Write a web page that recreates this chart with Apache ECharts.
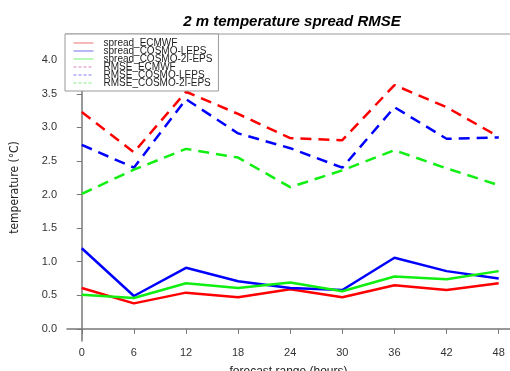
<!DOCTYPE html>
<html>
<head>
<meta charset="utf-8">
<script src="https://cdn.jsdelivr.net/npm/echarts@6/dist/echarts.min.js"></script>
<style>
    html, body {margin: 0; padding: 0; background: #fff;}
    #chart {width: 510px; height: 371px;}
</style>
</head>
<body>
<div id="chart"></div>
<script>
// forecast hours
const hours = [0, 6, 12, 18, 24, 30, 36, 42, 48];
const yTicks = [0, 0.5, 1, 1.5, 2, 2.5, 3, 3.5, 4];

// spread (solid)
const spreadEcmwf = [0.61, 0.38, 0.54, 0.47, 0.59, 0.47, 0.65, 0.58, 0.68];
const spreadLeps = [1.20, 0.49, 0.91, 0.71, 0.61, 0.58, 1.06, 0.86, 0.75];
const spread2i = [0.51, 0.46, 0.68, 0.61, 0.69, 0.56, 0.78, 0.74, 0.86];

// RMSE (dashed)
const rmseEcmwf = [3.23, 2.63, 3.53, 3.20, 2.84, 2.81, 3.63, 3.30, 2.86];
const rmseLeps = [2.74, 2.40, 3.42, 2.91, 2.69, 2.40, 3.30, 2.83, 2.85];
const rmse2i = [2.01, 2.37, 2.68, 2.55, 2.11, 2.36, 2.66, 2.39, 2.14];

const RED = '#ff0000';
const BLUE = '#0000ff';
const GREEN = '#11ee11';

const toPairs = vals => hours.map((h, i) => [h, vals[i]]);

const makeSeries = (name, vals, color, dashed) => ({
    name,
    type: 'line',
    data: toPairs(vals),
    symbol: 'none',
    z: dashed ? 3 : 4,
    lineStyle: {color, width: 2.5, type: dashed ? [11, 7] : 'solid'},
    itemStyle: {color},
});

// legend entry: thin sample line, no marker
const legendItem = (name, color, dashed) => ({
    name,
    itemStyle: {color: 'rgba(0,0,0,0)', borderWidth: 0},
    lineStyle: {width: 1, color, type: dashed ? [3, 2] : 'solid'},
});

const chart = echarts.init(document.getElementById('chart'));
const option = {
    animation: false,
    title: {
        text: '2 m temperature spread RMSE',
        left: 287,
        top: 9,
        textAlign: 'center',
        textStyle: {fontSize: 15, fontWeight: 'bold', fontStyle: 'italic', color: '#000', fontFamily: 'Liberation Sans'},
    },
    grid: {left: 67, top: 34, right: 0, bottom: 30, outerBoundsMode: 'none', containLabel: false},
    legend: {
        orient: 'vertical',
        left: 65,
        top: 34,
        itemGap: -2,
        itemWidth: 20,
        itemHeight: 8,
        padding: [4, 6, 3, 8],
        backgroundColor: '#fff',
        borderColor: '#999',
        borderWidth: 1,
        z: 10,
        textStyle: {fontSize: 10, color: '#222', fontFamily: 'Liberation Sans', padding: [0, 0, 0, 5]},
        data: [
            legendItem('spread_ECMWF', '#f07070', false),
            legendItem('spread_COSMO-LEPS', '#7070f0', false),
            legendItem('spread_COSMO-2I-EPS', '#70f070', false),
            legendItem('RMSE_ECMWF', '#e080c0', true),
            legendItem('RMSE_COSMO-LEPS', '#8080f0', true),
            legendItem('RMSE_COSMO-2I-EPS', '#80f080', true),
        ],
    },
    xAxis: {
        type: 'value',
        min: -1.7,
        max: 49.3,
        name: 'forecast range (hours)',
        nameLocation: 'middle',
        nameGap: 25,
        nameTextStyle: {fontSize: 12, color: '#222', fontFamily: 'Liberation Sans'},
        axisLine: {show: true, lineStyle: {color: '#777', width: 1.5}},
        axisTick: {show: true, length: 5, customValues: hours, lineStyle: {color: '#777'}},
        axisLabel: {customValues: hours, fontSize: 11, color: '#333', margin: 6, fontFamily: 'Liberation Sans'},
        splitLine: {show: false},
    },
    yAxis: {
        type: 'value',
        min: -0.18,
        max: 4.39,
        name: 'temperature (°C)',
        nameLocation: 'middle',
        nameGap: 46,
        nameRotate: 90,
        nameTextStyle: {fontSize: 12, color: '#222', fontFamily: 'DejaVu Sans Condensed, Liberation Sans'},
        axisLine: {show: true, lineStyle: {color: '#777', width: 1.5}},
        axisTick: {show: true, length: 5, customValues: yTicks, lineStyle: {color: '#777'}},
        axisLabel: {
            customValues: yTicks,
            fontSize: 11,
            color: '#333',
            margin: 10,
            fontFamily: 'Liberation Sans',
            formatter: v => v.toFixed(1),
        },
        splitLine: {show: false},
    },
    graphic: [{
        type: 'line',
        shape: {x1: 65, y1: 34, x2: 510, y2: 34},
        style: {stroke: '#bbb', lineWidth: 1.5},
        z: 1,
    }],
    series: [
        makeSeries('spread_ECMWF', spreadEcmwf, RED, false),
        makeSeries('spread_COSMO-LEPS', spreadLeps, BLUE, false),
        makeSeries('spread_COSMO-2I-EPS', spread2i, GREEN, false),
        makeSeries('RMSE_ECMWF', rmseEcmwf, RED, true),
        makeSeries('RMSE_COSMO-LEPS', rmseLeps, BLUE, true),
        makeSeries('RMSE_COSMO-2I-EPS', rmse2i, GREEN, true),
    ],
};
chart.setOption(option);
</script>
</body>
</html>
